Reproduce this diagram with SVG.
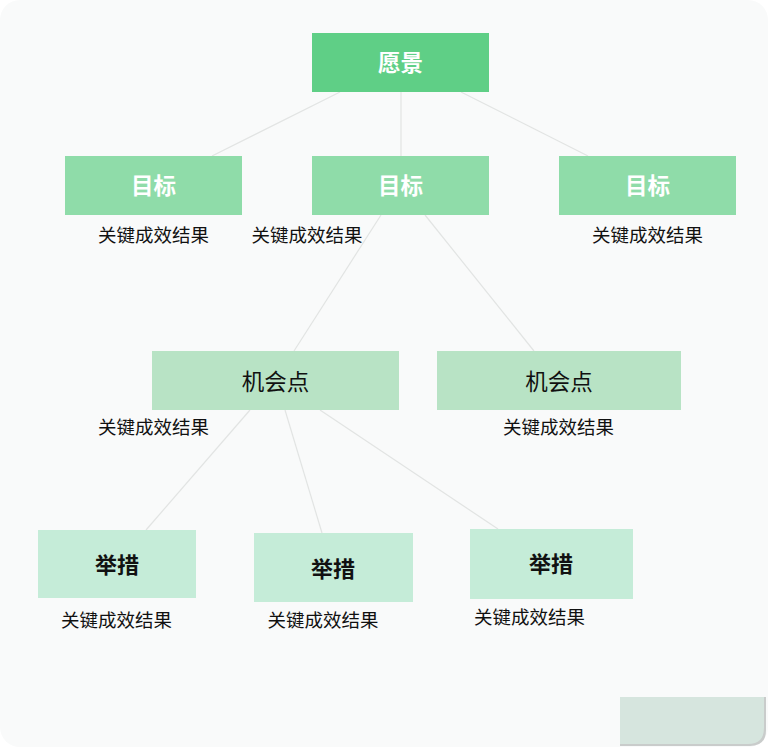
<svg xmlns="http://www.w3.org/2000/svg" width="768" height="747" viewBox="0 0 768 747">
<style>
text{font-family:"Noto Sans CJK SC","Noto Sans",sans-serif;text-anchor:middle;dominant-baseline:central}
.w{fill:#ffffff;font-size:22.5px;font-weight:bold}
.k{fill:#111111;font-size:18.5px}
.m{fill:#111111;font-size:22.5px}
.b{fill:#111111;font-size:22px;font-weight:bold}
.c line{stroke:#e2e4e3;stroke-width:1.2}
</style>
<rect x="0" y="0" width="768" height="747" fill="#ffffff"/>
<rect x="0" y="0" width="768" height="747" rx="20" fill="#f9fafa"/>
<g class="c" id="connectors">
<line x1="340" y1="92" x2="212" y2="156"/>
<line x1="401" y1="92" x2="401" y2="156"/>
<line x1="461" y1="92" x2="588" y2="156"/>
<line x1="381" y1="215" x2="294" y2="351"/>
<line x1="425" y1="215" x2="534" y2="351"/>
<line x1="250" y1="410" x2="146" y2="530"/>
<line x1="285" y1="410" x2="322" y2="533"/>
<line x1="320" y1="410" x2="498" y2="529"/>
</g>
<g id="vision"><rect x="312" y="33" width="177" height="59" fill="#5fcf86"/><text class="w" x="400.5" y="61">愿景</text></g>
<g id="goal1"><rect x="65" y="156" width="177" height="59" fill="#8fdca9"/><text class="w" x="153.5" y="184">目标</text><text class="k" x="153.5" y="233.5">关键成效结果</text></g>
<g id="goal2"><rect x="312" y="156" width="177" height="59" fill="#8fdca9"/><text class="w" x="400.5" y="184">目标</text><text class="k" x="307" y="233.5">关键成效结果</text></g>
<g id="goal3"><rect x="559" y="156" width="177" height="59" fill="#8fdca9"/><text class="w" x="647.5" y="184">目标</text><text class="k" x="647.5" y="233.5">关键成效结果</text></g>
<g id="opp1"><rect x="152" y="351" width="247" height="59" fill="#b8e3c5"/><text class="m" x="275.5" y="380">机会点</text><text class="k" x="153.5" y="426">关键成效结果</text></g>
<g id="opp2"><rect x="437" y="351" width="244" height="59" fill="#b8e3c5"/><text class="m" x="559" y="380">机会点</text><text class="k" x="558.5" y="426">关键成效结果</text></g>
<g id="act1"><rect x="38" y="530" width="158" height="68" fill="#c5ecd8"/><text class="b" x="117" y="563">举措</text><text class="k" x="116.5" y="619">关键成效结果</text></g>
<g id="act2"><rect x="254" y="533" width="159" height="69" fill="#c5ecd8"/><text class="b" x="333" y="567">举措</text><text class="k" x="323" y="619">关键成效结果</text></g>
<g id="act3"><rect x="470" y="529" width="163" height="70" fill="#c5ecd8"/><text class="b" x="551" y="562">举措</text><text class="k" x="529.5" y="616">关键成效结果</text></g>
<path d="M620 697 H766 V730 Q766 746 750 746 H620 Z" fill="#c9cccb"/>
<path d="M620 697 H764 V728 Q764 744 748 744 H620 Z" fill="#d6e5de"/>
</svg>
